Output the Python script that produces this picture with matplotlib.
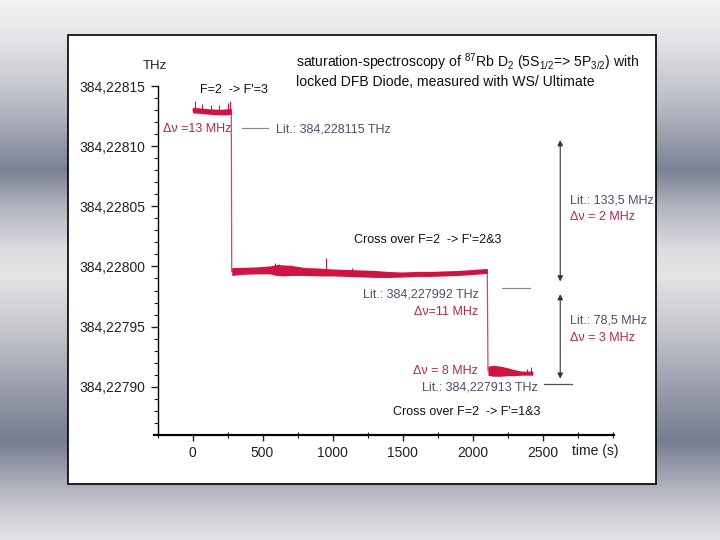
import numpy as np
import matplotlib
matplotlib.use("Agg")
import matplotlib.pyplot as plt
from matplotlib.patches import Rectangle
from matplotlib.ticker import FixedLocator, FuncFormatter

plt.rcParams['font.family'] = ['Liberation Sans', 'DejaVu Sans']
plt.rcParams['mathtext.fontset'] = 'custom'
plt.rcParams['mathtext.rm'] = 'Liberation Sans'
plt.rcParams['mathtext.it'] = 'Liberation Sans'
plt.rcParams['mathtext.default'] = 'regular'

# ---------------- data (time in s, frequency in THz) ----------------
seg1_t = [0, 40, 80, 120, 160, 200, 240, 277]
seg1_v = [384.2281300, 384.2281296, 384.2281292, 384.2281288,
          384.2281285, 384.2281283, 384.2281285, 384.2281290]
seg1_hw = [2.3e-6, 2.3e-6, 2.3e-6, 2.3e-6, 2.3e-6, 2.3e-6, 2.5e-6, 2.5e-6]

seg2_t = [280, 350, 450, 550, 600, 650, 700, 750, 800, 900, 1000, 1100,
          1200, 1300, 1400, 1500, 1600, 1700, 1800, 1900, 2000, 2050, 2105]
seg2_v = [384.2279958, 384.2279963, 384.2279967, 384.2279971, 384.2279971,
          384.2279967, 384.2279967, 384.2279963, 384.2279958, 384.2279954,
          384.2279950, 384.2279946, 384.2279942, 384.2279938, 384.2279933,
          384.2279933, 384.2279938, 384.2279938, 384.2279942, 384.2279946,
          384.2279954, 384.2279958, 384.2279963]
seg2_hw = [3.3e-6, 2.9e-6, 2.9e-6, 3.3e-6, 4.6e-6, 4.6e-6, 4.2e-6, 3.8e-6,
           3.3e-6, 3.3e-6, 2.9e-6, 2.9e-6, 2.9e-6, 2.9e-6, 2.5e-6, 2.1e-6,
           2.1e-6, 2.1e-6, 2.1e-6, 2.1e-6, 2.1e-6, 2.1e-6, 2.1e-6]

seg3_t = [2110, 2150, 2200, 2250, 2300, 2350, 2400, 2430]
seg3_v = [384.2279133, 384.2279133, 384.2279129, 384.2279125,
          384.2279117, 384.2279113, 384.2279113, 384.2279113]
seg3_hw = [3.8e-6, 4.6e-6, 4.2e-6, 3.3e-6, 2.5e-6, 1.7e-6, 1.7e-6, 1.7e-6]

spike_t = [20, 70, 130, 190, 250, 268, 590, 615, 700, 950, 1140, 2390, 2420]
spike_base = [384.2281300, 384.2281294, 384.2281290, 384.2281284, 384.2281285,
              384.2281288, 384.2279971, 384.2279970, 384.2279967, 384.2279952,
              384.2279946, 384.2279113, 384.2279113]
spike_top = [384.2281375, 384.2281350, 384.2281340, 384.2281345, 384.2281355,
             384.2281375, 384.2280025, 384.2280020, 384.2280008, 384.2280067,
             384.2279985, 384.2279150, 384.2279167]

ytick_values = [384.22790, 384.22795, 384.22800, 384.22805, 384.22810, 384.22815]
xtick_values = [0, 500, 1000, 1500, 2000, 2500]

RED = '#cf1442'
LIT = '#4e4e6e'
TXTRED = '#b8254e'

W, H = 720, 540
fig = plt.figure(figsize=(7.2, 5.4), dpi=100)

# ---------------- slide background ----------------
bg = fig.add_axes([0, 0, 1, 1], zorder=0)
stops_y = np.array([0, 40, 100, 170, 205, 250, 275, 330, 390, 440, 480, 520, 540])
stops_c = np.array([[243, 243, 243], [226, 227, 229], [188, 191, 199],
                    [123, 129, 147], [176, 179, 189], [222, 222, 226],
                    [228, 228, 230], [196, 198, 205], [152, 156, 170],
                    [118, 124, 142], [168, 171, 182], [214, 214, 219],
                    [226, 226, 229]]) / 255.0
yy = np.arange(H)
grad = np.stack([np.interp(yy, stops_y, stops_c[:, k]) for k in range(3)], axis=1)
bg.imshow(grad[:, None, :], aspect='auto', extent=[0, W, H, 0])
bg.set_xlim(0, W)
bg.set_ylim(H, 0)
bg.axis('off')
bg.add_patch(Rectangle((68, 35), 588, 449, facecolor='white',
                       edgecolor='black', linewidth=1.2))

# ---------------- main axes ----------------
ax = fig.add_axes([154 / W, 1 - 434.5 / H, 460 / W, (434.5 - 86) / H], zorder=2)
ax.patch.set_alpha(0)
ax.set_xlim(-275, 3010)
ax.set_ylim(384.2278603, 384.22815)

for t, v, hw in [(seg1_t, seg1_v, seg1_hw), (seg2_t, seg2_v, seg2_hw),
                 (seg3_t, seg3_v, seg3_hw)]:
    v = np.array(v)
    hw = np.array(hw)
    ax.fill_between(t, v - hw, v + hw, color=RED, linewidth=0, zorder=3)

all_t = seg1_t + seg2_t + seg3_t
all_v = seg1_v + seg2_v + seg3_v
ax.plot(all_t, all_v, color=RED, lw=0.9, zorder=3, alpha=0.8)
ax.vlines(spike_t, spike_base, spike_top, color=RED, lw=0.8, zorder=3)

# spines / ticks
ax.spines['top'].set_visible(False)
ax.spines['right'].set_visible(False)
ax.spines['left'].set_position(('data', -250))
ax.spines['left'].set_linewidth(1.0)
ax.spines['bottom'].set_linewidth(1.6)

ax.yaxis.set_major_locator(FixedLocator(ytick_values))
ax.yaxis.set_minor_locator(FixedLocator(
    [ytick_values[0] + k * 1e-5 for k in range(-3, 26)]))
ax.yaxis.set_major_formatter(FuncFormatter(lambda v, p: f"{v:.5f}".replace('.', ',')))
ax.xaxis.set_major_locator(FixedLocator(xtick_values))
ax.xaxis.set_minor_locator(FixedLocator([-250, 250, 750, 1250, 1750, 2250, 2750, 3000]))
ax.xaxis.set_major_formatter(FuncFormatter(lambda v, p: f"{int(v)}"))

ax.tick_params(axis='y', which='major', direction='out', length=5, width=1,
               labelsize=10, pad=4, colors='#222222')
ax.tick_params(axis='y', which='minor', direction='out', length=3, width=0.8,
               colors='#222222')
ax.tick_params(axis='x', which='major', direction='out', length=4, width=1,
               labelsize=10, pad=4, colors='#222222')
ax.tick_params(axis='x', which='minor', direction='inout', length=4, width=0.8,
               colors='#222222')

# ---------------- annotations ----------------
fs = 9
ax.text(56, 384.2281467, "F=2  -> F'=3", fontsize=fs, va='center', ha='left', color='#111')
ax.text(-209, 384.2281142, "Δν =13 MHz", fontsize=fs, va='center', ha='left', color=TXTRED)
ax.plot([355, 542], [384.228115, 384.228115], color='#8a8a8a', lw=0.9)
ax.text(599, 384.2281142, "Lit.: 384,228115 THz", fontsize=fs, va='center', ha='left', color=LIT)

ax.text(2698, 384.228055, "Lit.: 133,5 MHz", fontsize=fs, va='center', ha='left',
        color=LIT, clip_on=False)
ax.text(2698, 384.2280408, "Δν = 2 MHz", fontsize=fs, va='center', ha='left',
        color=TXTRED, clip_on=False)
ax.text(1155, 384.2280217, "Cross over F=2  -> F'=2&3", fontsize=fs, va='center',
        ha='left', color='#111')

ax.text(2048, 384.2279767, "Lit.: 384,227992 THz", fontsize=fs, va='center', ha='right', color=LIT)
ax.plot([2212, 2412], [384.2279817, 384.2279817], color='#8a8a8a', lw=0.9)
ax.text(2041, 384.2279625, "Δν=11 MHz", fontsize=fs, va='center', ha='right', color=TXTRED)

ax.text(2698, 384.227955, "Lit.: 78,5 MHz", fontsize=fs, va='center', ha='left',
        color=LIT, clip_on=False)
ax.text(2698, 384.2279408, "Δν = 3 MHz", fontsize=fs, va='center', ha='left',
        color=TXTRED, clip_on=False)

ax.text(2041, 384.2279133, "Δν = 8 MHz", fontsize=fs, va='center', ha='right', color=TXTRED)
ax.text(2469, 384.2278992, "Lit.: 384,227913 THz", fontsize=fs, va='center', ha='right', color=LIT)
ax.plot([2512, 2712], [384.2279025, 384.2279025], color='#555555', lw=0.9)
ax.text(2484, 384.2278792, "Cross over F=2  -> F'=1&3", fontsize=fs, va='center',
        ha='right', color='#111')

arr = dict(arrowstyle='<|-|>', color='#333333', lw=0.8, mutation_scale=8,
           shrinkA=0, shrinkB=0)
ax.annotate('', xy=(2626, 384.228105), xytext=(2626, 384.2279875), arrowprops=arr)
ax.annotate('', xy=(2626, 384.227977), xytext=(2626, 384.2279067), arrowprops=arr)

fig.text(155 / W, 1 - 66 / H, "THz", fontsize=9.5, ha='center', va='center', color='#222')
fig.text(572 / W, 1 - 451 / H, "time (s)", fontsize=10, ha='left', va='center', color='#222')
fig.text(296 / W, 1 - 62 / H,
         "saturation-spectroscopy of $^{87}$Rb D$_2$ (5S$_{1/2}$=> 5P$_{3/2}$) with",
         fontsize=10.1, ha='left', va='center', color='#111')
fig.text(296 / W, 1 - 82 / H, "locked DFB Diode, measured with WS/ Ultimate",
         fontsize=10.1, ha='left', va='center', color='#111')

fig.savefig("out.png", dpi=100)
